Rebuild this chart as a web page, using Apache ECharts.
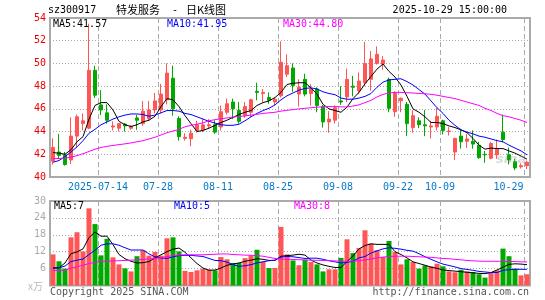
<!DOCTYPE html>
<html>
<head>
<meta charset="utf-8">
<script src="https://cdn.jsdelivr.net/npm/echarts@6/dist/echarts.min.js"></script>
<style>
  html, body { margin: 0; padding: 0; background: #fff; }
  #chart { width: 545px; height: 300px; }
</style>
</head>
<body>
<div id="chart"></div>
<script>
// trading days shown on the chart
const dates = [
  '2025-07-02','2025-07-03','2025-07-04','2025-07-07','2025-07-08','2025-07-09','2025-07-10','2025-07-11',
  '2025-07-14','2025-07-15','2025-07-16','2025-07-17','2025-07-18','2025-07-21','2025-07-22','2025-07-23',
  '2025-07-24','2025-07-25','2025-07-28','2025-07-29','2025-07-30','2025-07-31','2025-08-01','2025-08-04',
  '2025-08-05','2025-08-06','2025-08-07','2025-08-08','2025-08-11','2025-08-12','2025-08-13','2025-08-14',
  '2025-08-15','2025-08-18','2025-08-19','2025-08-20','2025-08-21','2025-08-22','2025-08-25','2025-08-26',
  '2025-08-27','2025-08-28','2025-08-29','2025-09-01','2025-09-02','2025-09-03','2025-09-04','2025-09-05',
  '2025-09-08','2025-09-09','2025-09-10','2025-09-11','2025-09-12','2025-09-15','2025-09-16','2025-09-17',
  '2025-09-18','2025-09-19','2025-09-22','2025-09-23','2025-09-24','2025-09-25','2025-09-26','2025-09-29',
  '2025-09-30','2025-10-09','2025-10-10','2025-10-13','2025-10-14','2025-10-15','2025-10-16','2025-10-17',
  '2025-10-20','2025-10-21','2025-10-22','2025-10-23','2025-10-24','2025-10-27','2025-10-28','2025-10-29'
]
const tickDates = ['2025-07-14', '2025-07-28', '2025-08-11', '2025-08-25', '2025-09-08', '2025-09-22', '2025-10-09', '2025-10-29']

const openP = [
  41.4, 42.2, 41.95, 41.5, 43.6, 44.7, 44.3, 49.4, 46.35, 45.65,
  44.4, 44.3, 44.65, 44.3, 45.2, 44.7, 45.15, 45.9, 45.9, 46.8,
  48.7, 45.15, 43.4, 43.37, 44.1, 44.15, 44.5, 44.6, 44.4, 45.7,
  46.6, 45.85, 45.4, 45.7, 47.55, 47.35, 47.0, 46.6, 47.15, 49.05,
  49.6, 47.3, 48.6, 47.35, 47.75, 46.2, 44.85, 45.0, 46.7, 47.05,
  48.0, 47.6, 48.3, 48.6, 50.0, 49.95, 48.6, 45.75, 46.72, 46.4,
  44.35, 44.95, 44.6, 44.4, 44.4, 44.95, 44.0, 42.2, 43.6, 43.15,
  43.15, 42.8, 42.0, 41.65, 41.95, 43.95, 41.95, 41.35, 40.9, 41.0
]
const closeP = [
  42.6, 41.9, 41.1, 43.6, 45.3, 44.95, 49.4, 47.2, 45.9, 45.0,
  44.5, 44.7, 44.5, 44.45, 45.0, 45.8, 45.9, 46.7, 47.3, 49.15,
  46.0, 43.55, 43.5, 43.86, 44.6, 44.6, 44.6, 43.95, 45.75, 46.45,
  46.0, 44.9, 46.2, 46.8, 47.45, 47.45, 46.75, 46.85, 50.1, 49.8,
  48.05, 47.9, 47.3, 47.75, 46.3, 44.85, 45.1, 46.1, 46.6, 48.6,
  47.9, 48.45, 50.0, 50.4, 50.8, 50.3, 46.05, 47.4, 46.93, 44.7,
  45.4, 44.6, 44.5, 44.5, 45.35, 44.1, 44.05, 43.4, 43.1, 43.35,
  42.9, 41.7, 41.95, 42.95, 42.45, 43.3, 41.5, 40.8, 41.0, 41.3
]
const lowP = [
  41.1, 41.6, 41.0, 41.15, 42.6, 44.1, 44.2, 46.95, 45.45, 44.7,
  44.1, 44.0, 44.0, 44.15, 44.15, 44.5, 44.95, 45.6, 45.6, 46.4,
  45.4, 43.2, 43.2, 42.72, 43.9, 43.95, 44.25, 43.8, 44.1, 45.5,
  45.1, 44.7, 45.2, 45.3, 46.75, 46.6, 46.45, 46.3, 47.0, 48.8,
  47.5, 46.2, 47.1, 46.3, 45.7, 44.35, 43.9, 44.7, 46.35, 46.6,
  47.1, 47.3, 48.0, 47.6, 49.9, 49.45, 45.7, 45.3, 45.7, 43.6,
  43.9, 44.3, 43.6, 43.4, 44.1, 43.75, 43.65, 41.5, 42.5, 42.55,
  42.5, 41.6, 41.25, 41.55, 41.6, 43.05, 41.1, 40.6, 40.75, 40.7
]
const highP = [
  43.4, 43.8, 42.2, 45.25, 45.5, 45.6, 53.5, 49.8, 47.65, 46.4,
  44.9, 44.75, 44.75, 44.55, 45.45, 46.7, 46.7, 47.4, 48.2, 50.0,
  49.8, 45.35, 43.85, 44.16, 44.95, 45.1, 45.1, 45.0, 46.3, 46.9,
  46.9, 46.6, 46.6, 46.9, 48.3, 47.75, 47.45, 47.0, 51.95, 50.8,
  50.0, 48.6, 49.1, 48.2, 47.9, 46.35, 45.8, 46.3, 48.0, 49.55,
  48.9, 49.2, 51.9, 51.1, 51.5, 50.65, 48.75, 47.55, 47.0, 46.6,
  45.9, 45.25, 45.9, 44.95, 46.1, 45.05, 44.4, 43.45, 44.25, 43.8,
  44.1, 43.1, 42.3, 43.1, 43.3, 45.5, 42.6, 41.6, 41.2, 41.45
]

// price moving averages as drawn
const ma5 = [
  42.15, 42.1, 42.0, 42.4, 43.1, 43.55, 45.1, 46.3, 46.55, 46.55,
  45.9, 44.9, 44.6, 44.45, 44.6, 44.85, 45.0, 45.35, 46.2, 46.9,
  46.8, 46.2, 45.4, 44.7, 44.0, 44.1, 44.3, 44.55, 44.8, 45.0,
  45.25, 45.5, 45.7, 45.85, 46.3, 46.55, 46.7, 47.0, 47.45, 48.15,
  48.25, 48.3, 48.3, 47.85, 47.3, 46.4, 46.0, 45.85, 45.7, 46.15,
  46.9, 47.45, 48.2, 48.85, 49.5, 49.95, 49.3, 48.8, 48.1, 47.1,
  46.0, 45.7, 45.3, 44.8, 44.8, 44.7, 44.5, 44.35, 44.15, 43.9,
  43.4, 42.8, 42.45, 42.55, 42.5, 42.5, 42.3, 42.1, 41.85, 41.57
]
const ma10 = [
  41.3, 41.45, 41.8, 42.2, 42.65, 43.2, 43.85, 44.2, 44.6, 44.85,
  45.1, 45.3, 45.45, 45.55, 45.55, 45.5, 45.35, 45.45, 45.65, 45.85,
  45.85, 45.8, 45.6, 45.5, 45.3, 45.1, 44.9, 44.75, 44.6, 44.55,
  44.55, 44.65, 44.95, 45.3, 45.6, 45.85, 46.05, 46.35, 46.8, 47.15,
  47.4, 47.65, 47.8, 47.85, 47.75, 47.5, 47.35, 47.25, 46.95, 46.85,
  46.85, 46.95, 47.1, 47.35, 47.9, 48.35, 48.55, 48.6, 48.65, 48.4,
  48.1, 47.7, 47.3, 46.7, 46.1, 45.6, 45.0, 44.55, 44.15, 43.95,
  43.8, 43.6, 43.5, 43.35, 43.2, 43.1, 42.8, 42.55, 42.3, 41.95
]
const ma30 = [
  41.62, 41.63, 41.66, 41.75, 41.88, 42.05, 42.25, 42.45, 42.6, 42.7,
  42.78, 42.85, 42.92, 43.0, 43.1, 43.2, 43.35, 43.5, 43.7, 43.9,
  44.05, 44.2, 44.42, 44.55, 44.65, 44.77, 44.95, 45.05, 45.12, 45.2,
  45.28, 45.33, 45.38, 45.45, 45.52, 45.6, 45.65, 45.7, 45.8, 45.87,
  45.93, 46.0, 46.05, 46.1, 46.15, 46.18, 46.2, 46.2, 46.18, 46.17,
  46.25, 46.35, 46.55, 46.75, 47.05, 47.27, 47.4, 47.45, 47.45, 47.42,
  47.4, 47.35, 47.33, 47.28, 47.2, 47.1, 47.0, 46.9, 46.75, 46.6,
  46.45, 46.3, 46.05, 45.85, 45.6, 45.4, 45.3, 45.15, 45.0, 44.8
]

// volume (x万) and its moving averages
const vol = [
  11.05, 8.6, 6.0, 17.1, 18.9, 12.1, 27.4, 21.8, 10.7, 16.6,
  10.0, 7.5, 6.1, 5.0, 10.4, 12.5, 10.6, 11.9, 10.6, 16.75,
  17.1, 12.1, 5.2, 4.8, 5.4, 6.0, 5.7, 5.4, 10.1, 9.3,
  8.0, 8.0, 9.7, 10.6, 12.7, 8.5, 6.2, 6.2, 20.8, 11.05,
  8.9, 7.2, 9.2, 8.35, 7.5, 5.0, 5.75, 5.75, 9.8, 16.4,
  11.5, 13.3, 19.6, 14.85, 12.5, 10.1, 15.8, 11.9, 7.5, 9.3,
  8.35, 6.0, 7.15, 6.8, 7.75, 6.8, 5.0, 4.7, 5.6, 5.0,
  4.8, 4.0, 2.8, 4.8, 5.4, 13.1, 10.4, 6.0, 3.6, 4.0
]
const volMa5 = [
  6.3, 6.3, 8.0, 11.3, 11.9, 13.0, 17.0, 19.0, 17.5, 17.5,
  14.5, 11.0, 9.5, 8.6, 8.0, 8.1, 8.5, 9.8, 10.9, 12.0,
  12.9, 13.3, 11.8, 9.8, 7.8, 6.2, 5.4, 5.5, 6.2, 7.2,
  7.6, 8.0, 8.6, 9.0, 9.5, 9.3, 8.9, 8.9, 10.4, 10.6,
  10.8, 11.1, 10.8, 9.0, 8.0, 7.3, 6.8, 6.4, 6.4, 8.5,
  10.5, 13.0, 14.2, 14.8, 14.6, 14.6, 14.6, 12.0, 11.0, 9.8,
  8.4, 7.8, 7.2, 6.5, 6.1, 5.5, 5.3, 5.1, 4.9, 4.7,
  4.5, 4.3, 4.2, 4.6, 5.5, 6.5, 7.5, 7.7, 7.6, 7.4
]
const volMa10 = [
  6.0, 6.3, 6.9, 8.5, 9.0, 9.4, 11.0, 12.5, 14.3, 14.8,
  14.8, 14.3, 13.4, 12.6, 12.6, 12.6, 11.2, 10.2, 9.8, 9.6,
  10.2, 10.6, 10.7, 10.7, 10.5, 10.3, 9.6, 8.9, 8.8, 8.3,
  7.4, 6.8, 7.0, 7.4, 8.0, 8.4, 8.8, 9.0, 10.1, 10.3,
  10.2, 9.9, 9.6, 9.7, 9.7, 9.3, 8.8, 8.4, 8.0, 8.2,
  8.6, 9.8, 10.3, 11.5, 12.3, 13.0, 13.4, 13.2, 12.9, 12.5,
  12.2, 11.3, 10.2, 9.3, 8.4, 7.6, 7.1, 6.6, 6.0, 5.7,
  5.4, 5.0, 4.8, 4.6, 4.6, 5.4, 5.6, 5.75, 5.75, 5.75
]
const volMa30 = [
  5.3, 5.35, 5.4, 6.2, 6.6, 7.2, 7.8, 8.2, 8.5, 8.7,
  8.7, 8.8, 8.9, 9.0, 9.1, 9.3, 9.4, 9.6, 9.9, 10.3,
  10.6, 10.8, 10.9, 10.9, 10.9, 10.9, 11.0, 11.1, 11.2, 11.2,
  11.0, 10.9, 10.8, 10.7, 10.6, 10.4, 10.0, 9.6, 9.4, 9.3,
  9.25, 9.15, 9.05, 9.0, 8.95, 8.9, 8.8, 8.7, 8.65, 8.6,
  8.65, 8.8, 9.1, 9.4, 9.8, 10.1, 10.3, 10.4, 10.4, 10.4,
  10.3, 10.2, 10.1, 10.0, 9.8, 9.6, 9.5, 9.3, 9.1, 8.9,
  8.75, 8.65, 8.6, 8.6, 8.6, 8.6, 8.55, 8.5, 8.4, 8.35
]

const UP = '#ff5555'
const DOWN = '#00a800'
const MONO = '"DejaVu Sans Mono", "Liberation Mono", monospace'
const CJK = '"Noto Sans CJK SC", sans-serif'
const GRIDC = '#aaaaaa'

const chart = echarts.init(document.getElementById('chart'))

// boundary axis: one slot per candle edge, so ticks sit between candles
const edges = dates.concat([''])
const tickIdx = tickDates.map(d => dates.indexOf(d))
const lastIdx = tickIdx[tickIdx.length - 1]
const showTick = (index) => tickIdx.indexOf(index) >= 0

const lineSeries = (name, data, color, xi, yi) => ({
  name: name,
  type: 'line',
  xAxisIndex: xi,
  yAxisIndex: yi,
  data: data,
  symbol: 'none',
  lineStyle: { color: color, width: 1 },
  silent: true,
  z: 3
})

const txt = (x, y, text, fill, font, extra) => ({
  type: 'text', x: x, y: y, z: 10,
  style: Object.assign({ text: text, fill: fill, font: font, verticalAlign: 'middle' }, extra || {})
})

const option = {
  animation: false,
  backgroundColor: '#fff',
  grid: [
    { left: 50, top: 18, width: 480, height: 159, show: true, borderColor: GRIDC, borderWidth: 2 },
    { left: 50, top: 201, width: 480, height: 84.5, show: true, borderColor: GRIDC, borderWidth: 2 }
  ],
  xAxis: [
    {
      type: 'category', gridIndex: 0, data: dates, boundaryGap: true,
      axisLine: { show: false }, axisTick: { show: false }, axisLabel: { show: false }, splitLine: { show: false }
    },
    {
      type: 'category', gridIndex: 0, data: edges, boundaryGap: false, position: 'bottom',
      axisLine: { show: false }, axisTick: { show: false },
      axisLabel: {
        interval: showTick,
        margin: 5,
        color: '#0a78c8',
        fontFamily: MONO,
        fontSize: 10,
        formatter: (value, index) => {
          if (index === tickIdx[0]) return value
          if (index === lastIdx) return '{e|' + value.slice(5) + '}'
          return value.slice(5)
        },
        rich: {
          e: { padding: [0, 31, 0, 0], color: '#0a78c8', fontFamily: MONO, fontSize: 10 }
        }
      },
      splitLine: { show: true, interval: showTick, lineStyle: { color: GRIDC, type: [5, 3], width: 1 } }
    },
    {
      type: 'category', gridIndex: 1, data: dates, boundaryGap: true,
      axisLine: { show: false }, axisTick: { show: false }, axisLabel: { show: false }, splitLine: { show: false }
    },
    {
      type: 'category', gridIndex: 1, data: edges, boundaryGap: false,
      axisLine: { show: false }, axisTick: { show: false }, axisLabel: { show: false },
      splitLine: { show: true, interval: showTick, lineStyle: { color: GRIDC, type: [5, 3], width: 1 } }
    }
  ],
  yAxis: [
    {
      type: 'value', gridIndex: 0, min: 40, max: 54, interval: 2,
      axisLine: { show: false }, axisTick: { show: false },
      axisLabel: { color: '#ee0000', fontFamily: MONO, fontSize: 10, margin: 4 },
      splitLine: { show: true, lineStyle: { color: GRIDC, type: [1, 2], width: 1 } }
    },
    {
      type: 'value', gridIndex: 1, min: 0, max: 30, interval: 6,
      axisLine: { show: false }, axisTick: { show: false },
      axisLabel: {
        color: '#aaaaaa', fontFamily: MONO, fontSize: 10, margin: 4,
        formatter: v => (v === 0 ? '' : String(v))
      },
      splitLine: { show: true, lineStyle: { color: GRIDC, type: [1, 2], width: 1 } }
    }
  ],
  series: [
    {
      name: 'K',
      type: 'candlestick',
      xAxisIndex: 0,
      yAxisIndex: 0,
      barWidth: 4,
      data: dates.map((d, i) => [openP[i], closeP[i], lowP[i], highP[i]]),
      itemStyle: { color: UP, color0: DOWN, borderColor: UP, borderColor0: DOWN, borderWidth: 1 },
      silent: true,
      z: 2
    },
    lineSeries('MA5', ma5, '#000000', 0, 0),
    lineSeries('MA10', ma10, '#0000ff', 0, 0),
    lineSeries('MA30', ma30, '#ff00ff', 0, 0),
    {
      name: 'VOL',
      type: 'bar',
      xAxisIndex: 2,
      yAxisIndex: 1,
      barWidth: 5,
      data: vol.map((v, i) => ({
        value: v,
        itemStyle: { color: closeP[i] >= openP[i] ? UP : DOWN }
      })),
      silent: true,
      z: 2
    },
    lineSeries('VMA5', volMa5, '#000000', 2, 1),
    lineSeries('VMA10', volMa10, '#0000ff', 2, 1),
    lineSeries('VMA30', volMa30, '#ff00ff', 2, 1)
  ],
  graphic: [
    txt(48, 10, 'sz300917', '#000', '10px ' + MONO),
    txt(116, 10, '特发服务', '#000', '11px ' + CJK),
    txt(175, 10, '-', '#000', '10px ' + MONO, { align: 'center' }),
    txt(186, 10, '日K线图', '#000', '11px ' + CJK),
    txt(507, 10, '2025-10-29 15:00:00', '#000', '10px ' + MONO, { align: 'right' }),
    txt(53, 24, 'MA5:41.57', '#000', '10px ' + MONO),
    txt(167, 24, 'MA10:41.95', '#0000ff', '10px ' + MONO),
    txt(283, 24, 'MA30:44.80', '#ff00ff', '10px ' + MONO),
    txt(54, 206, 'MA5:7', '#000', '10px ' + MONO),
    txt(174, 206, 'MA10:5', '#0000ff', '10px ' + MONO),
    txt(294, 206, 'MA30:8', '#ff00ff', '10px ' + MONO),
    txt(28, 286, 'x万', '#bbbbbb', '10px ' + CJK),
    txt(50, 292, 'Copyright 2025 SINA.COM', '#555', '10px ' + MONO),
    txt(529, 292, 'http://finance.sina.com.cn', '#555', '10px ' + MONO, { align: 'right' }),
    txt(496, 160, 'sina', 'rgba(150,150,150,0.35)', 'italic bold 13px "DejaVu Sans", sans-serif')
  ]
}

chart.setOption(option)
</script>
</body>
</html>
